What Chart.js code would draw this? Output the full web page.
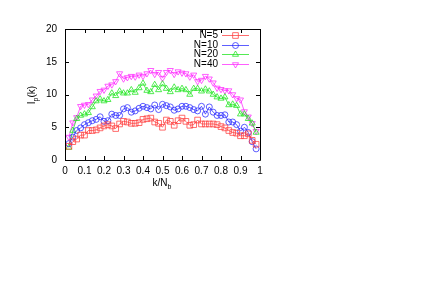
<!DOCTYPE html>
<html>
<head>
<meta charset="utf-8">
<script src="https://cdn.jsdelivr.net/npm/chart.js@4/dist/chart.umd.min.js"></script>
<style>
  html, body { margin: 0; padding: 0; background: #ffffff; }
  canvas { display: block; }
</style>
</head>
<body>
<canvas id="chart" width="430" height="304"></canvas>
<script>
const kValues = [0.02, 0.04, 0.06, 0.08, 0.10, 0.12, 0.14, 0.16, 0.18, 0.20,
  0.22, 0.24, 0.26, 0.28, 0.30, 0.32, 0.34, 0.36, 0.38, 0.40,
  0.42, 0.44, 0.46, 0.48, 0.50, 0.52, 0.54, 0.56, 0.58, 0.60,
  0.62, 0.64, 0.66, 0.68, 0.70, 0.72, 0.74, 0.76, 0.78, 0.80,
  0.82, 0.84, 0.86, 0.88, 0.90, 0.92, 0.94, 0.96, 0.98];

const seriesN5 = [2.1, 2.8, 3.2, 3.8, 3.8, 4.5, 4.5, 4.6, 4.9, 5.2,
  5.4, 5.2, 4.8, 5.5, 5.9, 5.8, 5.6, 5.6, 5.7, 6.2,
  6.3, 6.4, 5.8, 5.6, 5.0, 6.1, 5.9, 5.3, 6.0, 6.4,
  5.9, 5.3, 5.4, 6.1, 5.5, 5.5, 5.5, 5.5, 5.4, 5.1,
  4.9, 4.5, 4.2, 4.1, 3.7, 3.7, 4.0, 3.0, 2.4];

const seriesN10 = [2.5, 3.5, 4.5, 4.9, 5.4, 5.7, 6.0, 6.2, 6.6, 5.9,
  6.0, 7.0, 6.8, 6.8, 7.8, 8.0, 7.3, 7.5, 7.9, 8.2,
  8.0, 7.8, 8.4, 7.7, 8.5, 8.3, 8.1, 7.6, 7.8, 8.2,
  8.2, 8.0, 7.7, 7.5, 8.2, 7.0, 8.1, 7.3, 6.8, 6.8,
  6.9, 5.8, 5.8, 5.4, 4.4, 5.0, 4.2, 2.8, 1.7];

const seriesN20 = [1.9, 4.5, 6.3, 6.8, 7.0, 7.2, 8.1, 9.0, 9.3, 9.0,
  9.2, 10.2, 9.8, 10.5, 10.2, 10.2, 10.7, 10.3, 11.0, 11.7,
  10.6, 10.4, 11.5, 10.7, 11.6, 10.9, 10.4, 11.1, 10.7, 10.9,
  10.7, 10.0, 10.9, 10.9, 10.5, 10.8, 10.5, 10.0, 9.6, 9.4,
  9.6, 8.4, 8.5, 8.3, 7.0, 7.0, 6.3, 5.6, 4.2];

const seriesN40 = [3.5, 5.7, 6.5, 8.2, 8.4, 8.5, 9.2, 9.8, 10.5, 10.7,
  11.3, 11.5, 12.0, 13.2, 12.4, 12.6, 12.8, 12.7, 13.0, 12.8,
  13.2, 13.7, 13.1, 13.4, 12.5, 13.4, 13.7, 13.1, 13.5, 13.3,
  13.2, 12.7, 13.0, 12.0, 12.2, 12.8, 12.4, 11.8, 11.0, 10.8,
  10.6, 10.6, 10.0, 9.4, 9.2, 7.4, 6.6, 5.6, 4.4];

const seriesLabels = ['N=5', 'N=10', 'N=20', 'N=40'];
const xTickValues = [0, 0.1, 0.2, 0.3, 0.4, 0.5, 0.6, 0.7, 0.8, 0.9, 1];
const yTickValues = [0, 5, 10, 15, 20];

const FONT = '10px "Liberation Sans", Arial, sans-serif';
const SUB_FONT = '7px "Liberation Sans", Arial, sans-serif';

function toPoints(values) {
  return values.map(function (v, i) { return { x: kValues[i], y: v }; });
}

function makeDataset(label, values, color, style, radius, rotation) {
  return {
    label: label,
    data: toPoints(values),
    borderColor: color,
    backgroundColor: 'transparent',
    borderWidth: 1,
    pointStyle: style,
    pointRadius: radius,
    pointRotation: rotation,
    pointBorderColor: color,
    pointBackgroundColor: 'transparent',
    pointBorderWidth: 1,
    tension: 0
  };
}

// gnuplot style frame with inward ticks on all four sides
const framePlugin = {
  id: 'frame',
  afterDatasetsDraw(chart) {
    const { ctx, chartArea: a, scales } = chart;
    ctx.save();
    ctx.strokeStyle = '#000000';
    ctx.lineWidth = 1;
    ctx.beginPath();
    ctx.rect(Math.round(a.left) + 0.5, Math.round(a.top) + 0.5,
      Math.round(a.right - a.left), Math.round(a.bottom - a.top));
    ctx.stroke();
    ctx.beginPath();
    xTickValues.forEach(function (v) {
      const x = Math.round(scales.x.getPixelForValue(v)) + 0.5;
      ctx.moveTo(x, a.bottom);
      ctx.lineTo(x, a.bottom - 4);
      ctx.moveTo(x, a.top);
      ctx.lineTo(x, a.top + 4);
    });
    yTickValues.forEach(function (v) {
      const y = Math.round(scales.y.getPixelForValue(v)) + 0.5;
      ctx.moveTo(a.left, y);
      ctx.lineTo(a.left + 4, y);
      ctx.moveTo(a.right, y);
      ctx.lineTo(a.right - 4, y);
    });
    ctx.stroke();
    ctx.restore();
  }
};

// axis titles with subscripts
const titlePlugin = {
  id: 'axisTitles',
  afterDraw(chart) {
    const ctx = chart.ctx;
    ctx.save();
    ctx.fillStyle = '#000000';
    ctx.textBaseline = 'alphabetic';

    // x title: k/N_b
    ctx.font = FONT;
    const main = 'k/N';
    const wMain = ctx.measureText(main).width;
    ctx.font = SUB_FONT;
    const wSub = ctx.measureText('b').width;
    const x0 = 162 - (wMain + wSub) / 2;
    ctx.font = FONT;
    ctx.fillText(main, x0, 186);
    ctx.font = SUB_FONT;
    ctx.fillText('b', x0 + wMain, 189);

    // y title: I_p(k), rotated
    ctx.translate(35, 95);
    ctx.rotate(-Math.PI / 2);
    ctx.font = FONT;
    const wI = ctx.measureText('I').width;
    const wRest = ctx.measureText('(k)').width;
    ctx.font = SUB_FONT;
    const wP = ctx.measureText('p').width;
    const start = -(wI + wP + wRest) / 2;
    ctx.font = FONT;
    ctx.fillText('I', start, 0);
    ctx.font = SUB_FONT;
    ctx.fillText('p', start + wI, 3);
    ctx.font = FONT;
    ctx.fillText('(k)', start + wI + wP, 0);
    ctx.restore();
  }
};

// legend: right-aligned text, then line sample with hollow marker
const legendPlugin = {
  id: 'sideLegend',
  afterDatasetsDraw(chart) {
    const ctx = chart.ctx;
    ctx.save();
    ctx.font = FONT;
    ctx.textAlign = 'right';
    ctx.textBaseline = 'middle';
    chart.data.datasets.forEach(function (ds, i) {
      const y = Math.round(35 + i * 9.7) + 0.5;
      ctx.fillStyle = '#000000';
      ctx.fillText(ds.label, 218, y);
      ctx.strokeStyle = ds.borderColor;
      ctx.lineWidth = 1;
      ctx.beginPath();
      ctx.moveTo(222, y);
      ctx.lineTo(249, y);
      ctx.stroke();
      ctx.fillStyle = 'rgba(0, 0, 0, 0)';
      Chart.helpers.drawPoint(ctx, {
        pointStyle: ds.pointStyle,
        rotation: ds.pointRotation,
        radius: ds.pointRadius,
        borderWidth: 1
      }, 235.5, y);
    });
    ctx.restore();
  }
};

new Chart(document.getElementById('chart').getContext('2d'), {
  type: 'line',
  plugins: [framePlugin, titlePlugin, legendPlugin],
  data: {
    datasets: [
      makeDataset(seriesLabels[0], seriesN5, 'rgba(255, 60, 60, 0.75)', 'rect', 4, 0),
      makeDataset(seriesLabels[1], seriesN10, 'rgba(40, 40, 255, 0.75)', 'circle', 3, 0),
      makeDataset(seriesLabels[2], seriesN20, 'rgba(40, 230, 40, 0.8)', 'triangle', 3.5, 0),
      makeDataset(seriesLabels[3], seriesN40, 'rgba(255, 40, 255, 0.75)', 'triangle', 3.5, 180)
    ]
  },
  options: {
    responsive: false,
    animation: false,
    layout: { padding: { left: 0, top: 29, right: 170, bottom: 0 } },
    plugins: {
      legend: { display: false },
      tooltip: { enabled: false }
    },
    scales: {
      x: {
        type: 'linear',
        min: 0,
        max: 1,
        afterFit(scale) { scale.height = 144; },
        afterBuildTicks(scale) { scale.ticks = xTickValues.map(function (v) { return { value: v }; }); },
        grid: { display: false, drawTicks: false },
        border: { display: false },
        ticks: {
          padding: 5,
          color: '#000000',
          font: { family: '"Liberation Sans", Arial, sans-serif', size: 10 },
          maxRotation: 0,
          autoSkip: false,
          callback(value) { return String(Number(value.toFixed(1))); }
        }
      },
      y: {
        type: 'linear',
        min: 0,
        max: 20,
        afterFit(scale) { scale.width = 65; },
        afterBuildTicks(scale) { scale.ticks = yTickValues.map(function (v) { return { value: v }; }); },
        grid: { display: false, drawTicks: false },
        border: { display: false },
        ticks: {
          padding: 8,
          color: '#000000',
          font: { family: '"Liberation Sans", Arial, sans-serif', size: 10 }
        }
      }
    }
  }
});
</script>
</body>
</html>
